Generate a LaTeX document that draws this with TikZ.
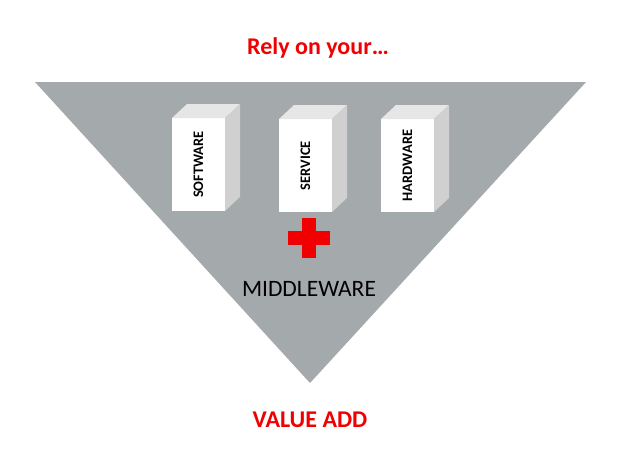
\documentclass[tikz,border=0pt]{standalone}
\usepackage{fontspec}
\setmainfont{Carlito}
\definecolor{color_funnel}{HTML}{A4A9AB}
\definecolor{color_side}{HTML}{D0D0D0}
\definecolor{color_top}{HTML}{E6E6E6}
\definecolor{color_red}{HTML}{F00000}
\tikzset{
  label_red/.style={text=color_red, font=\fontsize{24}{28}\selectfont\bfseries},
  box_text/.style={rotate=90, font=\fontsize{14.5}{16}\selectfont\bfseries},
}
% one box: front face corner (x,y), name, text
\newcommand{\drawbox}[3]{
  \fill[white] (#1,#2) rectangle ++(53,93);
  \fill[color_top] (#1,#2) -- ++(15,-14) -- ++(53,0) -- ++(-15,14) -- cycle;
  \fill[color_side] (#1+53,#2) -- ++(15,-14) -- ++(0,93) -- ++(-15,14) -- cycle;
  \node[box_text] (#3) at (#1+26.5,#2+46.5) {#3};
}

\begin{document}
\begin{tikzpicture}[x=1pt,y=-1pt]
  \useasboundingbox (0,0) rectangle (621,472);
  \fill[white] (0,0) rectangle (621,472);
  % funnel
  \fill[color_funnel] (35,82) -- (586,82) -- (310,383) -- cycle;
  % boxes
  \drawbox{172}{118}{SOFTWARE}
  \drawbox{279}{119}{SERVICE}
  \drawbox{381}{119}{HARDWARE}
  % plus sign
  \fill[color_red] (302,218) rectangle (316,258);
  \fill[color_red] (288,231) rectangle (330,245);
  \node[label_red] (rely) at (318,48) {Rely on your…};
  \node[font=\fontsize{23.5}{28}\selectfont] (middleware) at (309,289) {MIDDLEWARE};
  \node[label_red] (value) at (310,420) {VALUE ADD};
\end{tikzpicture}
\end{document}
